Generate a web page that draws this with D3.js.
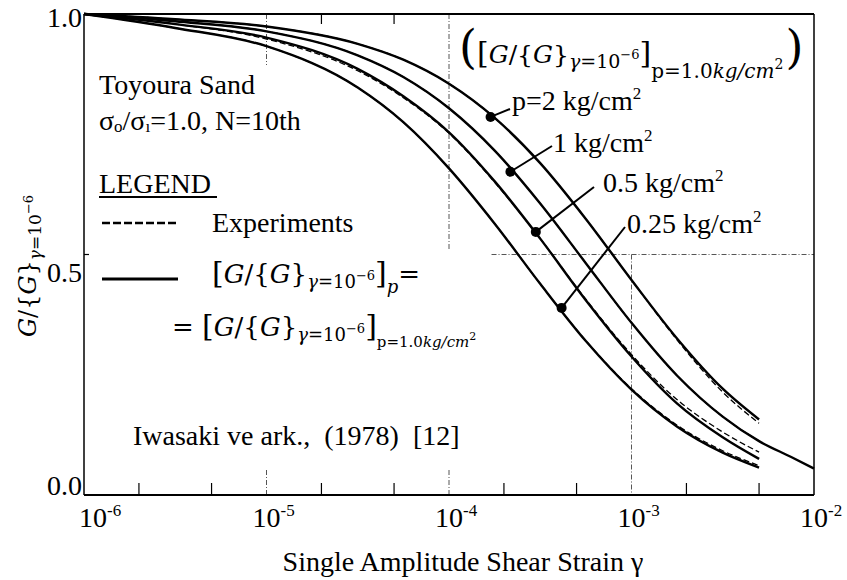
<!DOCTYPE html>
<html><head><meta charset="utf-8">
<script src="https://cdn.jsdelivr.net/npm/d3@7"></script>
</head><body style="margin:0;background:#fff">
<svg id="chart" width="847" height="580" style="display:block"></svg>
<script>
// ---------- data ----------
const strain = [1e-6, 3.16e-6, 1e-5, 3.16e-5, 5.62e-5, 1e-4, 1.78e-4, 3.16e-4, 5.62e-4, 1e-3, 1.78e-3, 3.16e-3, 5e-3];
const modelP2   = [1.000, 0.989, 0.974, 0.938, 0.905, 0.855, 0.784, 0.690, 0.574, 0.447, 0.325, 0.221, 0.157];
const modelP1   = [1.000, 0.985, 0.964, 0.914, 0.869, 0.804, 0.716, 0.606, 0.482, 0.358, 0.248, 0.163, 0.112];
const modelP05  = [1.000, 0.979, 0.951, 0.886, 0.829, 0.754, 0.652, 0.533, 0.405, 0.288, 0.190, 0.120, 0.075];
const modelP025 = [1.000, 0.971, 0.933, 0.847, 0.775, 0.679, 0.564, 0.439, 0.320, 0.219, 0.142, 0.088, 0.057];
const strainTail = [7.5e-3, 1e-2];
const modelP1Tail = [0.079, 0.055];
const expP2   = [1.000, 0.989, 0.974, 0.938, 0.905, 0.855, 0.784, 0.690, 0.574, 0.447, 0.322, 0.214, 0.149];
const expP1   = [1.000, 0.985, 0.964, 0.914, 0.869, 0.804, 0.716, 0.606, 0.482, 0.358, 0.248, 0.163, 0.112];
const expP05  = [1.000, 0.979, 0.948, 0.882, 0.826, 0.752, 0.650, 0.533, 0.407, 0.292, 0.198, 0.131, 0.089];
const expP025 = [1.000, 0.971, 0.933, 0.847, 0.775, 0.679, 0.564, 0.439, 0.321, 0.221, 0.145, 0.092, 0.061];
const pressureLabels = ["p=2 kg/cm", "1 kg/cm", "0.5 kg/cm", "0.25 kg/cm"];
const dotStrain = [1.69e-4, 2.17e-4, 2.99e-4, 4.14e-4];
const dotValue  = [0.786, 0.672, 0.547, 0.389];
const xTickExp = [-6, -5, -4, -3, -2];
const yTicks = [0.0, 0.5, 1.0];
const yTickLabels = ["0.0", "0.5", "1.0"];

// ---------- setup ----------
const svg = d3.select("#chart");
const x = d3.scaleLog().domain([1e-6, 1e-2]).range([84, 814]);
const y = d3.scaleLinear().domain([0, 1]).range([495, 14]);
const SERIF = "'Liberation Serif', 'Times New Roman', serif";
const MATH = "'DejaVu Serif', 'Liberation Serif', serif";

function txt(x0, y0, size, s) {
  return svg.append("text").attr("x", x0).attr("y", y0).attr("font-family", SERIF)
    .attr("font-size", size).attr("fill", "#000").text(s);
}
function rich(x0, y0, runs, base) {
  const t = svg.append("text").attr("x", x0).attr("y", y0).attr("font-family", SERIF).attr("fill", "#000");
  if (base) Object.entries(base).forEach(([k, v]) => t.attr(k, v));
  let cur = 0;
  runs.forEach(r => {
    const ts = t.append("tspan").text(r.t).attr("font-size", r.s).attr("font-family", r.f || SERIF);
    const b = r.b || 0;
    if (b !== cur) ts.attr("dy", b - cur);
    cur = b;
    if (r.i) ts.attr("font-style", "italic");
    if (r.dx) ts.attr("dx", r.dx);
  });
  return t;
}
function gBlock(big, main, sub, sup, sb) {
  return [
    {t: "[", s: big, f: MATH},
    {t: "G", s: main, i: 1, f: MATH},
    {t: "/{", s: main, f: MATH},
    {t: "G", s: main, i: 1, f: MATH},
    {t: "}", s: main, f: MATH},
    {t: "γ", s: sub, i: 1, f: MATH, b: sb},
    {t: "=10", s: sub, f: MATH, b: sb},
    {t: "−6", s: sup, f: MATH, b: sb - Math.round(sub * 0.45)},
    {t: "]", s: big, f: MATH, b: 0}
  ];
}

// ---------- grid lines (dash-dot, thin) ----------
const gridStyle = g => g.attr("stroke", "#555").attr("stroke-width", 1).attr("stroke-dasharray", "5,2,1,2").attr("fill", "none");
svg.append("line").attr("x1", x(1e-5)).attr("x2", x(1e-5)).attr("y1", y(1)).attr("y2", y(0.894)).call(gridStyle);
svg.append("line").attr("x1", x(1e-4)).attr("x2", x(1e-4)).attr("y1", y(1)).attr("y2", y(0.509)).call(gridStyle);
svg.append("line").attr("x1", x(1.71e-4)).attr("x2", x(1e-2)).attr("y1", y(0.5)).attr("y2", y(0.5)).call(gridStyle);
svg.append("line").attr("x1", x(1e-3)).attr("x2", x(1e-3)).attr("y1", y(0.5)).attr("y2", y(0)).call(gridStyle);
[1e-5, 1e-4].forEach(v => svg.append("line").attr("x1", x(v)).attr("x2", x(v)).attr("y1", y(0)).attr("y2", y(0) - 25).call(gridStyle));

// ---------- frame ----------
const frame = (x1, x2, y1, y2, w) => svg.append("line").attr("x1", x1).attr("x2", x2).attr("y1", y1).attr("y2", y2).attr("stroke", "#000").attr("stroke-width", w);
frame(x(1e-6), x(1e-2), y(0), y(0), 2.2);
frame(x(1e-6), x(1e-2), y(1), y(1), 2);
frame(x(1e-6), x(1e-6), y(1), y(0), 1.5);
frame(x(1e-2), x(1e-2), y(1), y(0), 1.5);

const minor = [];
xTickExp.slice(0, -1).forEach(e => { minor.push(2 * Math.pow(10, e)); minor.push(5 * Math.pow(10, e)); });
minor.forEach(v => frame(x(v), x(v), y(0), y(0) - 12, 1.2));
[2e-5, 5e-5].forEach(v => frame(x(v), x(v), y(1), y(1) + 10, 1.2));
frame(x(1e-6), x(1e-6) + 5, y(0.5), y(0.5), 1.2);

// ---------- curves ----------
const line = d3.line().x(d => x(d[0])).y(d => y(d[1])).curve(d3.curveMonotoneX);
const zip = (xs, ys) => xs.map((v, i) => [v, ys[i]]);
[expP2, expP1, expP05, expP025].forEach(e => svg.append("path").attr("d", line(zip(strain, e)))
  .attr("fill", "none").attr("stroke", "#000").attr("stroke-width", 1.3).attr("stroke-dasharray", "6,3"));
const models = [modelP2, modelP1.concat(modelP1Tail), modelP05, modelP025];
models.forEach((m, i) => {
  const xs = i === 1 ? strain.concat(strainTail) : strain;
  svg.append("path").attr("d", line(zip(xs, m)))
    .attr("fill", "none").attr("stroke", "#000").attr("stroke-width", 2.4);
});

// ---------- pressure labels, leaders and dots ----------
const labelPos = [[512, 110], [553, 152], [603, 192], [627, 233]];
const leaderEnd = [[510, 109], [552, 146], [594, 187], [625, 227]];
dotStrain.forEach((s, i) => {
  svg.append("line").attr("x1", x(s)).attr("y1", y(dotValue[i])).attr("x2", leaderEnd[i][0]).attr("y2", leaderEnd[i][1])
    .attr("stroke", "#000").attr("stroke-width", 2);
  svg.append("circle").attr("cx", x(s)).attr("cy", y(dotValue[i])).attr("r", 5).attr("fill", "#000");
  rich(labelPos[i][0], labelPos[i][1], [{t: pressureLabels[i], s: 28}, {t: "2", s: 17, b: -11}]);
});

// ---------- axis tick labels ----------
xTickExp.forEach((e, i) => {
  const px = x(Math.pow(10, e)) + (i === 0 ? 9 : 0);
  rich(px - 14, 527, [{t: "10", s: 28}, {t: "-" + Math.abs(e), s: 17, b: -11}]);
});
const yLabelBase = [495, 282, 27];
yTicks.forEach((v, i) => txt(82, yLabelBase[i], 28, yTickLabels[i]).attr("text-anchor", "end"));

// axis titles
txt(463, 571, 28, "Single Amplitude Shear Strain γ").attr("text-anchor", "middle");
rich(0, 0, [
  {t: "G", s: 24, i: 1, f: MATH},
  {t: "/{", s: 24, f: MATH},
  {t: "G", s: 24, i: 1, f: MATH},
  {t: "}", s: 24, f: MATH},
  {t: "γ", s: 17, i: 1, f: MATH, b: 5},
  {t: "=10", s: 17, f: MATH, b: 5},
  {t: "−6", s: 13, f: MATH, b: -3}
], {transform: "translate(36,266) rotate(-90)", "text-anchor": "middle"});

// ---------- text block ----------
txt(99, 94, 28, "Toyoura Sand");
rich(99, 130, [
  {t: "σ", s: 28}, {t: "o", s: 17, b: 2}, {t: "/σ", s: 28, b: 0}, {t: "ı", s: 17, b: 2},
  {t: "=1.0, N=10th", s: 28, b: 0}
]);
txt(99, 193, 28, "LEGEND");
frame(99, 217, 197, 197, 2);
svg.append("line").attr("x1", 102).attr("x2", 178).attr("y1", 223).attr("y2", 223).attr("stroke", "#000").attr("stroke-width", 2.5).attr("stroke-dasharray", "8,3");
txt(212, 232, 28, "Experiments");
frame(102, 178, 279, 279, 3);
rich(212, 283, gBlock(30, 26, 18, 13, 5).concat([
  {t: "p", s: 18, i: 1, f: MATH, b: 10},
  {t: "=", s: 26, f: MATH, b: 0}
]));
rich(172, 336, [{t: "= ", s: 26, f: MATH}].concat(gBlock(30, 26, 18, 13, 5)).concat([
  {t: "p=1.0", s: 15, f: MATH, b: 11},
  {t: "kg/cm", s: 15, i: 1, f: MATH, b: 11},
  {t: "2", s: 11, f: MATH, b: 4}
]));
txt(133, 445, 28, "Iwasaki ve ark.,  (1978)  [12]").style("white-space", "pre");

// ---------- top-right annotation ----------
rich(459, 63, [{t: "(", s: 46, f: MATH}].concat(gBlock(30, 25, 19, 13, 5)).concat([
  {t: "p=1.0", s: 20, f: MATH, b: 15},
  {t: "kg/cm", s: 20, i: 1, f: MATH, b: 15},
  {t: "2", s: 14, f: MATH, b: 6},
  {t: ")", s: 46, f: MATH, b: 0, dx: 2}
]));
</script>
</body></html>
